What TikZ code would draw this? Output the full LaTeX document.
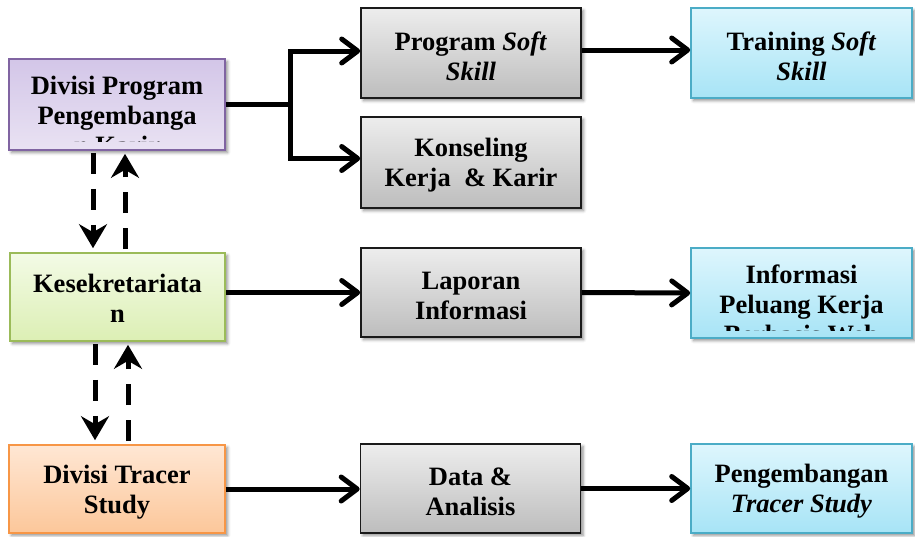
\documentclass[tikz,border=0pt]{standalone}
\usepackage{fontspec}
\setmainfont{Liberation Serif}
\usetikzlibrary{arrows.meta,shadows.blur,calc}

\definecolor{purpleEdge}{HTML}{8064A2}
\definecolor{purpleTop}{HTML}{D3C6E8}
\definecolor{purpleBot}{HTML}{E9E2F3}
\definecolor{greenEdge}{HTML}{9BBB59}
\definecolor{greenTop}{HTML}{F3FBE6}
\definecolor{greenBot}{HTML}{DCEFB4}
\definecolor{orangeEdge}{HTML}{F79646}
\definecolor{orangeTop}{HTML}{FFE7D4}
\definecolor{orangeBot}{HTML}{FCC79A}
\definecolor{grayEdge}{HTML}{1A1A1A}
\definecolor{grayTop}{HTML}{EDEDED}
\definecolor{grayBot}{HTML}{BDBDBD}
\definecolor{blueEdge}{HTML}{4BACC6}
\definecolor{blueTop}{HTML}{DEF6FD}
\definecolor{blueBot}{HTML}{A7E4F6}

\begin{document}
\begin{tikzpicture}[x=1pt,y=-1pt,
  boxtext/.style={align=center, inner sep=0pt,
    font=\fontsize{26.5pt}{30pt}\selectfont\bfseries, text=black},
  boxbase/.style={rectangle, line width=1.6pt,
    minimum width=216pt, minimum height=90pt,
    blur shadow={shadow xshift=2.5pt, shadow yshift=-2.5pt,
      shadow blur radius=3pt, shadow opacity=45}},
  purplebox/.style={boxbase, draw=purpleEdge, top color=purpleTop, bottom color=purpleBot},
  greenbox/.style={boxbase, draw=greenEdge, top color=greenTop, bottom color=greenBot},
  orangebox/.style={boxbase, draw=orangeEdge, top color=orangeTop, bottom color=orangeBot},
  graybox/.style={boxbase, draw=grayEdge, top color=grayTop, bottom color=grayBot, minimum width=220pt},
  bluebox/.style={boxbase, draw=blueEdge, top color=blueTop, bottom color=blueBot, minimum width=221pt},
  link/.style={line width=5pt},
  conn/.style={link, -{Straight Barb[length=16pt,width=24pt,round]}},
  dconn/.style={link, dash pattern=on 21pt off 15pt,
    -{Stealth[length=24pt,width=28pt,inset=8pt]}},
]
\useasboundingbox (0,0) rectangle (915,536);

% ---- boxes ----
\node[purplebox, minimum height=91pt] (A) at (117,104.5) {};
\node[greenbox, minimum width=215pt, minimum height=88pt] (B) at (117.5,297) {};
\node[orangebox, minimum height=88pt] (C) at (117,489) {};

\node[graybox] (G1) at (471,53) {};
\node[graybox, minimum height=91pt] (G2) at (471,162.5) {};
\node[graybox, minimum height=89pt] (G3) at (471,292.5) {};
\node[graybox, minimum height=89pt] (G4) at (470.5,488.5) {};

\node[bluebox] (L1) at (801.5,53) {};
\node[bluebox] (L2) at (801.5,293) {};
\node[bluebox, minimum height=89pt] (L3) at (801.5,488.5) {};

% ---- box texts ----
% overflowing texts are cut at the lower edge of their box
\begin{scope}
  \clip ([xshift=2pt,yshift=-2pt]A.north west) rectangle ([xshift=-2pt,yshift=9.5pt]A.south east);
  \node[boxtext, anchor=north] (Atext) at (117,75.5) {Divisi Program\\Pengembanga\\n Karir};
\end{scope}
\begin{scope}
  \clip ([xshift=2pt,yshift=-2pt]L2.north west) rectangle ([xshift=-2pt,yshift=8pt]L2.south east);
  \node[boxtext, anchor=north] (L2text) at (801.5,265) {Informasi\\Peluang Kerja\\Berbasis Web};
\end{scope}

\node[boxtext] (Btext) at ([yshift=-1pt]B.center) {Kesekretariata\\n};
\node[boxtext] (Ctext) at ([yshift=-3pt]C.center) {Divisi Tracer\\Study};
\node[boxtext] (G1text) at ([yshift=-3pt]G1.center) {Program \textit{Soft}\\\textit{Skill}};
\node[boxtext] (G2text) at ([yshift=-3pt]G2.center) {Konseling\\Kerja\ \ \&~Karir};
\node[boxtext] (G3text) at ([yshift=-3pt]G3.center) {Laporan\\Informasi};
\node[boxtext] (G4text) at ([yshift=-3pt]G4.center) {Data \&\\Analisis};
\node[boxtext] (L1text) at ([yshift=-3pt]L1.center) {Training \textit{Soft}\\\textit{Skill}};
\node[boxtext] (L3text) at ([yshift=-3pt]L3.center) {Pengembangan\\\textit{Tracer Study}};

% ---- branching connector from the top-left box ----
\coordinate (J) at ($(A.east)+(65,0)$);
\draw[link] (A.east) -- (J);
\draw[conn] (J) |- ([yshift=2pt]G1.west);
\draw[conn] (J) |- ([yshift=4pt]G2.west);

% ---- straight connectors ----
\draw[conn] ([yshift=3pt]G1.east) -- ([yshift=3pt]L1.west);
\draw[conn] (G3.west -| B.east) -- (G3.west);
\draw[conn] (G3.east) -- (L2.west);
\draw[conn] (C.east) -- (C.east -| G4.west);
\draw[conn] (G4.east) -- (L3.west);

% ---- dashed two-way links between the left boxes ----
\coordinate (d1s) at ($(A.south)+(-24,0)$);
\coordinate (d1e) at (d1s |- B.north);
\coordinate (u1s) at ($(B.north)+(7.5,0)$);
\coordinate (u1e) at (u1s |- A.south);
\draw[dconn, shorten <=2pt, shorten >=4pt] (d1s) -- (d1e);
\draw[dconn, shorten <=3pt, shorten >=3pt] (u1s) -- (u1e);

\coordinate (d2s) at ($(B.south)+(-22.5,0)$);
\coordinate (d2e) at (d2s |- C.north);
\coordinate (u2s) at ($(C.north)+(11,0)$);
\coordinate (u2e) at (u2s |- B.south);
\draw[dconn, shorten <=2pt, shorten >=4pt] (d2s) -- (d2e);
\draw[dconn, shorten <=3pt, shorten >=3pt] (u2s) -- (u2e);
\end{tikzpicture}
\end{document}
